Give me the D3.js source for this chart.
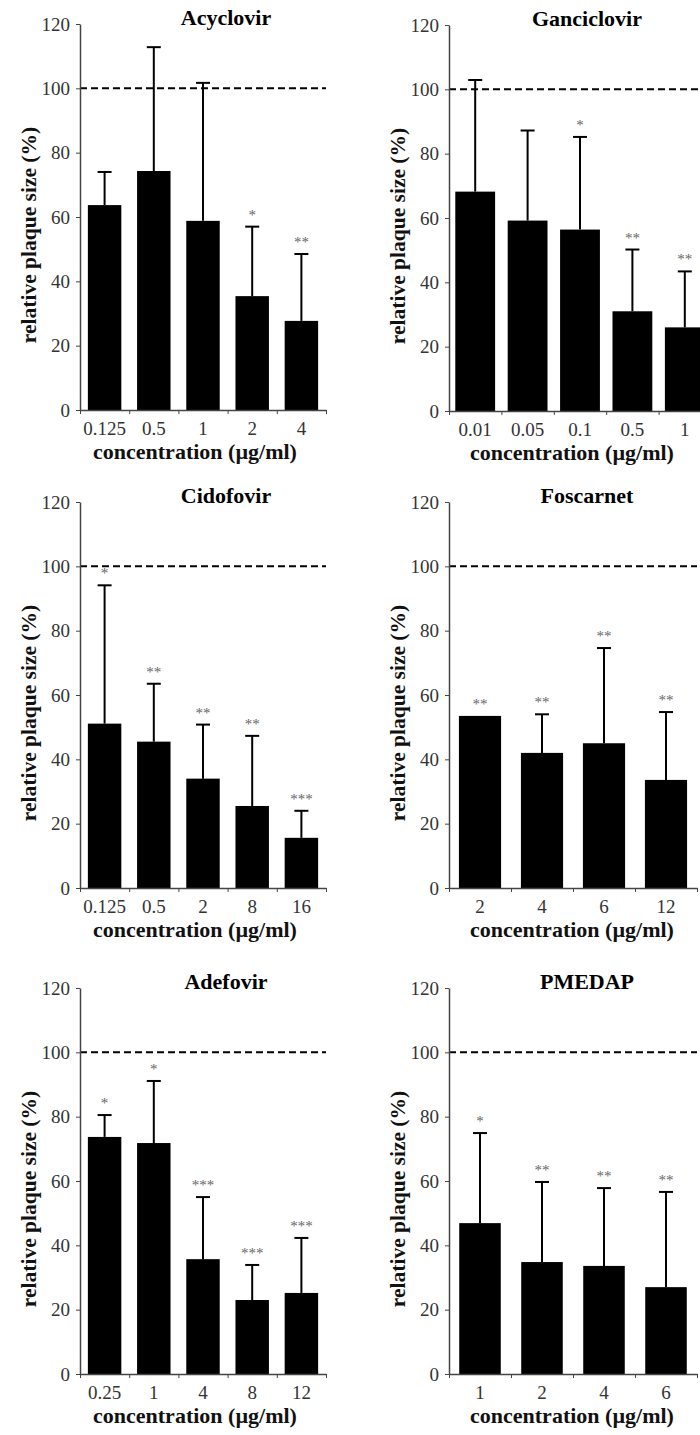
<!DOCTYPE html>
<html>
<head>
<meta charset="utf-8">
<script src="https://cdn.jsdelivr.net/npm/d3@7"></script>
<style>
  body { margin: 0; background: #fff; }
</style>
</head>
<body>
<svg id="chart" width="700" height="1435"></svg>
<script>
// panel titles
const drugs = ['Acyclovir', 'Ganciclovir', 'Cidofovir', 'Foscarnet', 'Adefovir', 'PMEDAP'];

// concentrations (ug/ml) used as category labels
const concentrations = [
  ['0.125', '0.5', '1', '2', '4'],
  ['0.01', '0.05', '0.1', '0.5', '1'],
  ['0.125', '0.5', '2', '8', '16'],
  ['2', '4', '6', '12'],
  ['0.25', '1', '4', '8', '12'],
  ['1', '2', '4', '6']
];

// mean relative plaque size (%)
const means = [
  [63.7, 74.3, 58.8, 35.4, 27.7],
  [68.2, 59.2, 56.4, 31.0, 26.0],
  [51.1, 45.5, 34.0, 25.5, 15.6],
  [53.5, 42.0, 45.0, 33.6],
  [73.7, 71.8, 35.7, 23.0, 25.2],
  [46.9, 34.8, 33.6, 27.0]
];

// standard deviation (upper error bar only)
const errors = [
  [10.3, 38.5, 42.9, 21.6, 20.8],
  [34.7, 28.0, 28.8, 19.2, 17.4],
  [43.0, 18.0, 16.8, 21.8, 8.4],
  [0, 12.0, 29.6, 21.1],
  [6.8, 19.3, 19.3, 10.9, 17.1],
  [28.0, 24.9, 24.2, 29.6]
];

// significance markers
const stars = [
  ['', '', '', '*', '**'],
  ['', '', '*', '**', '**'],
  ['*', '**', '**', '**', '***'],
  ['**', '**', '**', '**'],
  ['*', '*', '***', '***', '***'],
  ['*', '**', '**', '**']
];

const yTicks = [0, 20, 40, 60, 80, 100, 120];

// layout of each panel (left edge of axis, top of the 120 line, plot width, band padding)
const panelX = [80, 449, 80, 449, 80, 449];
const panelTop = [24, 25, 502, 502, 988, 988];
const panelWidth = [246, 262, 246, 248, 246, 248];
const barPad = [0.32, 0.24, 0.32, 0.32, 0.32, 0.33];
const plotH = 386;
const serif = "'Liberation Serif', 'Times New Roman', serif";

const svg = d3.select('#chart');

drugs.forEach((name, p) => {
  const x0 = panelX[p];
  const top = panelTop[p];
  const bottom = top + plotH;
  const w = panelWidth[p];
  const leftCol = p % 2 === 0;

  const g = svg.append('g');

  const y = d3.scaleLinear().domain([0, 120]).range([bottom, top]);
  const x = d3.scaleBand()
    .domain(concentrations[p])
    .range([x0, x0 + w])
    .paddingInner(barPad[p])
    .paddingOuter(barPad[p] / 2);
  // linear scale for the tick marks between categories
  const xEdge = d3.scaleLinear().domain([0, concentrations[p].length]).range([x0, x0 + w]);

  // bars
  g.selectAll('rect.bar')
    .data(means[p])
    .join('rect')
    .attr('class', 'bar')
    .attr('x', (d, i) => x(concentrations[p][i]))
    .attr('y', (d) => y(d))
    .attr('width', x.bandwidth())
    .attr('height', (d) => bottom - y(d))
    .attr('fill', '#000');

  // error bars (upper only)
  const errData = means[p].map((m, i) => ({ m, e: errors[p][i], c: concentrations[p][i], s: stars[p][i] }));
  const cx = (d) => x(d.c) + x.bandwidth() / 2;

  g.selectAll('line.err')
    .data(errData.filter((d) => d.e > 0))
    .join('line')
    .attr('class', 'err')
    .attr('x1', cx).attr('x2', cx)
    .attr('y1', (d) => y(d.m)).attr('y2', (d) => y(d.m + d.e))
    .attr('stroke', '#000').attr('stroke-width', 2);

  g.selectAll('line.cap')
    .data(errData.filter((d) => d.e > 0))
    .join('line')
    .attr('class', 'cap')
    .attr('x1', (d) => cx(d) - 7).attr('x2', (d) => cx(d) + 7)
    .attr('y1', (d) => y(d.m + d.e)).attr('y2', (d) => y(d.m + d.e))
    .attr('stroke', '#000').attr('stroke-width', 2);

  // stars
  g.selectAll('text.star')
    .data(errData)
    .join('text')
    .attr('class', 'star')
    .attr('x', cx)
    .attr('y', (d) => y(d.m + d.e) - 7)
    .attr('text-anchor', 'middle')
    .style('font-family', serif)
    .attr('font-size', 15)
    .attr('fill', '#666')
    .text((d) => d.s);

  // dashed 100% line
  g.append('line')
    .attr('x1', x0).attr('x2', x0 + w)
    .attr('y1', y(100)).attr('y2', y(100))
    .attr('stroke', '#000').attr('stroke-width', 2)
    .attr('stroke-dasharray', '7,4');

  // y axis
  const yAxis = g.append('g')
    .attr('transform', `translate(${x0},0)`)
    .call(d3.axisLeft(y).tickValues(yTicks).tickSize(4).tickSizeOuter(0).tickPadding(6));
  yAxis.select('.domain').attr('stroke', '#444').attr('stroke-width', 1.5);
  yAxis.selectAll('.tick line').attr('stroke', '#444');
  yAxis.selectAll('.tick text')
    .style('font-family', serif)
    .attr('font-size', 19).attr('fill', '#333');

  // x axis: tick marks at category boundaries
  const xTicks = g.append('g')
    .attr('transform', `translate(0,${bottom})`)
    .call(d3.axisBottom(xEdge).ticks(concentrations[p].length).tickSize(4).tickSizeOuter(0).tickFormat(''));
  xTicks.select('.domain').attr('stroke', '#444').attr('stroke-width', 1.5);
  xTicks.selectAll('.tick line').attr('stroke', '#444');

  // x axis: labels at band centres
  const xLabels = g.append('g')
    .attr('transform', `translate(0,${bottom})`)
    .call(d3.axisBottom(x).tickSize(0).tickPadding(12));
  xLabels.select('.domain').remove();
  xLabels.selectAll('.tick text')
    .style('font-family', serif)
    .attr('font-size', 19).attr('fill', '#333');

  // titles
  g.append('text')
    .attr('x', x0 + (leftCol ? 146 : 138))
    .attr('y', top + 1)
    .attr('text-anchor', 'middle')
    .style('font-family', serif)
    .attr('font-weight', 'bold')
    .attr('font-size', 22)
    .text(name);

  g.append('text')
    .attr('x', x0 + (leftCol ? 115 : 123))
    .attr('y', bottom + 49)
    .attr('text-anchor', 'middle')
    .style('font-family', serif)
    .attr('font-weight', 'bold')
    .attr('font-size', 22)
    .attr('fill', '#111')
    .text('concentration (µg/ml)');

  g.append('text')
    .attr('transform', `translate(${x0 - 44},${(top + bottom) / 2 + 18}) rotate(-90)`)
    .attr('text-anchor', 'middle')
    .style('font-family', serif)
    .attr('font-weight', 'bold')
    .attr('font-size', 21.5)
    .attr('fill', '#111')
    .text('relative plaque size (%)');
});
</script>
</body>
</html>
